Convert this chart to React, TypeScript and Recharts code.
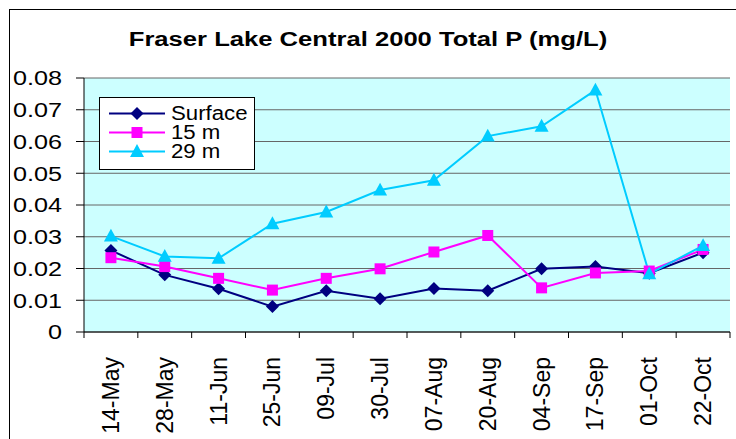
import { LineChart, Line, XAxis, YAxis, CartesianGrid, Legend } from 'recharts'

const dates = ['14-May', '28-May', '11-Jun', '25-Jun', '09-Jul', '30-Jul', '07-Aug', '20-Aug', '04-Sep', '17-Sep', '01-Oct', '22-Oct']
const surface = [0.0257, 0.018, 0.0136, 0.008, 0.013, 0.0105, 0.0137, 0.013, 0.0199, 0.0206, 0.0185, 0.025]
const m15 = [0.0234, 0.0206, 0.0169, 0.0132, 0.0169, 0.0199, 0.0252, 0.0304, 0.0139, 0.0186, 0.0192, 0.026]
const m29 = [0.0302, 0.0238, 0.0232, 0.0341, 0.0378, 0.0447, 0.0478, 0.0617, 0.0648, 0.0762, 0.0183, 0.0272]
const yTicks = [0, 0.01, 0.02, 0.03, 0.04, 0.05, 0.06, 0.07, 0.08]

const data = dates.map((d, i) => ({ date: d, surface: surface[i], m15: m15[i], m29: m29[i] }))

const FONT = 'Arial, "Liberation Sans", sans-serif'
const W = 736
const H = 439
const LEFT = 84
const RIGHT = 6
const BAND = (W - LEFT - RIGHT) / dates.length

const NAVY = '#000080'
const MAGENTA = '#ff00ff'
const CYAN = '#00ccff'

function Diamond({ cx, cy }: { cx: number; cy: number }) {
    const r = 6.5
    return <path d={`M${cx},${cy - r}L${cx + r},${cy}L${cx},${cy + r}L${cx - r},${cy}Z`} fill={NAVY} />
}

function Square({ cx, cy }: { cx: number; cy: number }) {
    const s = 11
    return <rect x={cx - s / 2} y={cy - s / 2} width={s} height={s} fill={MAGENTA} />
}

function Triangle({ cx, cy }: { cx: number; cy: number }) {
    const h = 12
    return <path d={`M${cx},${cy - h * 0.62}L${cx + 7},${cy + h * 0.45}L${cx - 7},${cy + h * 0.45}Z`} fill={CYAN} />
}

function XTick(props: any) {
    const { x, y, payload, index } = props
    const left = x - BAND / 2
    const ty = y + 25
    return (
        <g>
            <line x1={left} y1={y} x2={left} y2={y + 6} stroke="#000" />
            {index === dates.length - 1 && (
                <line x1={x + BAND / 2} y1={y} x2={x + BAND / 2} y2={y + 6} stroke="#000" />
            )}
            <text
                x={x}
                y={ty}
                transform={`rotate(-90, ${x}, ${ty})`}
                textAnchor="end"
                dy="0.35em"
                fontSize={23}
                fontFamily={FONT}
                fill="#000"
            >
                {payload.value}
            </text>
        </g>
    )
}

function YTick(props: any) {
    const { x, y, payload } = props
    const label = payload.value === 0 ? '0' : Number(payload.value).toFixed(2)
    return (
        <text
            x={x}
            y={y}
            dy="0.355em"
            textAnchor="end"
            fontSize={21}
            fontFamily={FONT}
            fill="#000"
            transform={`translate(${x},0) scale(1.2,1) translate(${-x},0)`}
        >
            {label}
        </text>
    )
}

const legendItems = [
    { name: 'Surface', color: NAVY, Marker: Diamond },
    { name: '15 m', color: MAGENTA, Marker: Square },
    { name: '29 m', color: CYAN, Marker: Triangle },
]

function LegendBox() {
    return (
        <div
            style={{
                width: 154,
                height: 65,
                border: '1px solid #000',
                background: '#fff',
                boxSizing: 'content-box',
                paddingTop: 6,
                fontFamily: FONT,
                fontSize: 20,
                textAlign: 'left',
            }}
        >
            {legendItems.map(({ name, color, Marker }) => (
                <div key={name} style={{ display: 'flex', alignItems: 'center', height: 19 }}>
                    <svg width={71} height={19} style={{ flex: 'none' }}>
                        <line x1={9} y1={9.5} x2={65} y2={9.5} stroke={color} strokeWidth={2} />
                        <Marker cx={37} cy={9.5} />
                    </svg>
                    <span
                        style={{
                            lineHeight: '19px',
                            display: 'inline-block',
                            transform: 'scaleX(1.11)',
                            transformOrigin: 'left center',
                            whiteSpace: 'nowrap',
                        }}
                    >
                        {name}
                    </span>
                </div>
            ))}
        </div>
    )
}

export default function App() {
    return (
        <div style={{ position: 'absolute', left: 0, top: 0, width: W, height: H, background: '#fff', overflow: 'hidden' }}>
            <div
                style={{
                    position: 'absolute',
                    left: 9,
                    top: 9,
                    width: W,
                    height: H,
                    borderLeft: '1px solid #000',
                    borderTop: '1px solid #000',
                }}
            />
            <div
                style={{
                    position: 'absolute',
                    left: 0,
                    top: 24,
                    width: W,
                    textAlign: 'center',
                    fontFamily: FONT,
                    fontWeight: 'bold',
                    fontSize: 20,
                    lineHeight: '30px',
                    transform: 'scaleX(1.28)',
                    transformOrigin: 'center',
                }}
            >
                Fraser Lake Central 2000 Total P (mg/L)
            </div>
            <div style={{ position: 'absolute', left: 0, top: 0 }}>
                <LineChart width={W} height={H} data={data} margin={{ top: 78, right: RIGHT, bottom: 0, left: 0 }}>
                    <CartesianGrid vertical={false} stroke="#666" fill="#ccffff" />
                    <XAxis
                        dataKey="date"
                        interval={0}
                        height={107}
                        padding={{ left: BAND / 2, right: BAND / 2 }}
                        tickSize={0}
                        tickMargin={0}
                        tickLine={false}
                        tick={<XTick />}
                        axisLine={{ stroke: '#000' }}
                    />
                    <YAxis
                        domain={[0, 0.08]}
                        ticks={yTicks}
                        width={LEFT}
                        tickSize={8}
                        tickMargin={14}
                        tick={<YTick />}
                        tickLine={{ stroke: '#000' }}
                        axisLine={{ stroke: '#000' }}
                    />
                    <YAxis
                        yAxisId="r"
                        orientation="right"
                        width={0}
                        tick={false}
                        tickLine={false}
                        axisLine={{ stroke: '#808080', strokeWidth: 2 }}
                    />
                    <Legend
                        layout="horizontal"
                        align="center"
                        verticalAlign="middle"
                        content={<LegendBox />}
                        wrapperStyle={{ left: 99, top: 97, width: 'auto', height: 'auto' }}
                    />
                    <Line
                        dataKey="surface"
                        name="Surface"
                        stroke={NAVY}
                        strokeWidth={2}
                        isAnimationActive={false}
                        dot={(p: any) => <Diamond key={`s${p.index}`} cx={p.cx} cy={p.cy} />}
                        activeDot={false}
                    />
                    <Line
                        dataKey="m15"
                        name="15 m"
                        stroke={MAGENTA}
                        strokeWidth={2}
                        isAnimationActive={false}
                        dot={(p: any) => <Square key={`m${p.index}`} cx={p.cx} cy={p.cy} />}
                        activeDot={false}
                    />
                    <Line
                        dataKey="m29"
                        name="29 m"
                        stroke={CYAN}
                        strokeWidth={2}
                        isAnimationActive={false}
                        dot={(p: any) => <Triangle key={`t${p.index}`} cx={p.cx} cy={p.cy} />}
                        activeDot={false}
                    />
                </LineChart>
            </div>
        </div>
    )
}
